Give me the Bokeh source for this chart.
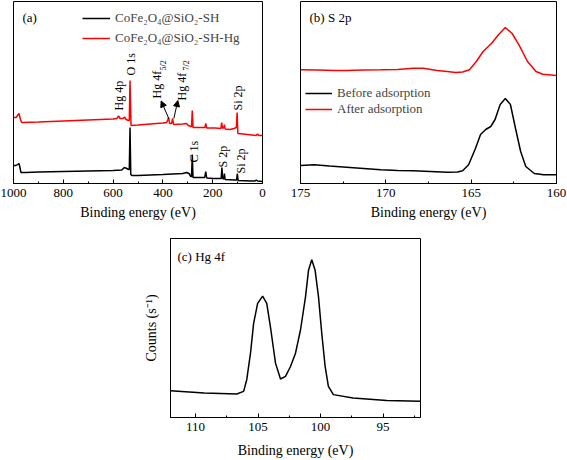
from bokeh.plotting import figure
from bokeh.layouts import column, row
from bokeh.models import (Range1d, FixedTicker, Legend, LegendItem, Arrow,
                          NormalHead)
from bokeh.core.properties import value
from bokeh.embed import file_html
from bokeh.resources import INLINE

FONT = "Liberation Serif"

# ---------------- (a) survey spectra ----------------
survey_sh_energy = [1000, 990, 978, 975, 970, 950, 900, 800, 700, 600, 565, 555, 545, 538,
                    535, 532, 529, 525, 500, 400, 320, 305, 295, 288, 285, 282, 279, 250,
                    232, 228, 224, 200, 170, 166, 163, 160, 155, 153, 150, 110, 104, 101,
                    98, 50, 30, 25, 20, 0]
survey_sh_counts = [18, 18, 20, 17, 11, 11, 11.5, 12, 12.5, 13, 13.5, 16, 15, 14,
                    14, 56, 9, 8, 8, 9, 10, 11, 10, 7, 7, 29, 6, 6,
                    6, 12, 5.5, 5, 5, 5, 16, 5, 4.5, 10, 4, 3.5, 3.5, 10,
                    3, 2.5, 2.5, 3.5, 2.5, 2]

survey_hg_energy = [1000, 990, 978, 972, 967, 900, 800, 700, 600, 585, 578, 572, 560, 554,
                    548, 538, 535, 532, 528, 500, 450, 400, 385, 380, 377, 373, 365, 361,
                    357, 320, 305, 298, 287, 285, 282, 279, 240, 231, 228, 224, 190, 167,
                    164, 160, 155, 153, 150, 130, 115, 105, 102, 99, 60, 25, 20, 15, 0]
survey_hg_counts = [66, 66, 70, 64, 61, 61.5, 62.5, 63.5, 64.5, 65, 67.5, 65, 65, 66.5,
                    64, 63, 63, 103, 58, 58.5, 59.5, 60.5, 61, 64, 66, 60, 60, 65,
                    59, 59.5, 60, 58, 57, 57, 73, 56, 56, 56, 60, 55.5, 55.5, 55,
                    61, 55, 56, 59, 54.5, 54, 55, 56, 71, 50, 49, 48, 49.5, 48, 48]

survey_ticks = [1000, 800, 600, 400, 200, 0]
survey_minor = [900, 700, 500, 300, 100]

# ---------------- (b) S 2p ----------------
s2p_before_energy = [175.0, 174.2, 173.3, 172.3, 171.3, 170.3, 169.3, 168.4, 167.4, 166.4,
                     165.8, 165.5, 165.15, 164.75, 164.45, 164.15, 163.85, 163.6, 163.3,
                     163.0, 162.7, 162.4, 162.1, 161.8, 161.3, 160.75, 160.0]
s2p_before_counts = [18, 18.7, 17.5, 16.3, 15, 13.7, 13, 12.7, 12, 11.3,
                     11.5, 12.7, 18.7, 35, 49, 54, 57, 64, 79,
                     85, 79, 55, 32, 17, 10, 8.7, 8.7]
s2p_after_energy = [175.0, 174.0, 173.0, 172.3, 171.3, 170.3, 169.3, 168.4, 167.8, 167.0,
                    166.4, 165.9, 165.5, 165.1, 164.7, 164.3, 163.8, 163.4, 163.0, 162.6,
                    162.2, 161.7, 161.2, 160.8, 160.0]
s2p_after_counts = [113.7, 113.5, 113, 113, 113.5, 113.7, 114, 115.3, 115.3, 113,
                    112, 111, 111.5, 113.7, 122, 132, 140.3, 148.7, 156, 150,
                    138.7, 122, 112, 109.3, 108]
s2p_ticks = [175, 170, 165, 160]
s2p_minor = [172.5, 167.5, 162.5]

# ---------------- (c) Hg 4f ----------------
hg4f_energy = [112.0, 109.3, 106.7, 106.15, 105.9, 105.6, 105.35, 105.03, 104.63, 104.3,
               103.97, 103.6, 103.2, 102.8, 102.4, 102.0, 101.6, 101.2, 100.96, 100.7,
               100.43, 100.16, 99.9, 99.63, 99.37, 98.97, 97.4, 94.7, 92.0]
hg4f_counts = [27, 24.7, 23.7, 26.3, 38, 64.7, 94.7, 114.7, 122, 114.7,
               88, 54.7, 38.7, 41.3, 51.3, 64.7, 88, 121.3, 148, 158.7,
               148, 121.3, 84.7, 51.3, 31.3, 23, 19.7, 17, 16.3]
hg4f_ticks = [110, 105, 100, 95]
hg4f_minor = [107.5, 102.5, 97.5, 92.5]

BLACK = "#000000"
RED = "#ff0000"


def style_xaxis(p, ticks, minor, title, title_standoff):
    ax = p.xaxis[0]
    ax.ticker = FixedTicker(ticks=ticks, minor_ticks=minor)
    ax.major_tick_in = 4
    ax.major_tick_out = 0
    ax.minor_tick_in = 2
    ax.minor_tick_out = 0
    ax.major_label_standoff = 5
    ax.axis_label = title
    ax.axis_label_standoff = title_standoff
    ax.axis_label_text_font = FONT
    ax.axis_label_text_font_style = "normal"
    ax.axis_label_text_font_size = "14px"
    ax.axis_label_text_color = "#000000"
    ax.major_label_text_font = FONT
    ax.major_label_text_font_size = "13px"
    ax.major_label_text_color = "#000000"
    ax.axis_line_color = "#000000"
    ax.major_tick_line_color = "#000000"
    ax.minor_tick_line_color = "#000000"


def base_fig(w, h, xr, yr, bl, br, bt, bb):
    p = figure(width=w, height=h, x_range=xr, y_range=yr,
               min_border_left=bl, min_border_right=br,
               min_border_top=bt, min_border_bottom=bb,
               output_backend="svg", toolbar_location=None)
    p.grid.visible = False
    p.outline_line_color = "#000000"
    p.outline_line_width = 1
    p.outline_line_alpha = 1
    p.background_fill_color = "white"
    p.border_fill_color = "white"
    return p


def add_text(p, x, y, txt, size="12px", angle=0.0, align="left", baseline="middle"):
    p.text(x=[x], y=[y], text=[txt], angle=angle, text_align=align,
           text_baseline=baseline, text_font=value(FONT),
           text_font_size=value(size), text_color="#000000")


# ----- panel (a)
pa = base_fig(280, 225, Range1d(1000, 0), Range1d(0, 182), 13, 18, 1, 42)
style_xaxis(pa, survey_ticks, survey_minor, "Binding energy (eV)", 5)
pa.yaxis.visible = False
ra1 = pa.line(survey_sh_energy, survey_sh_counts, line_color=BLACK, line_width=1.5)
ra2 = pa.line(survey_hg_energy, survey_hg_counts, line_color=RED, line_width=1.5)
leg_a = Legend(items=[LegendItem(label="CoFe₂O₄@SiO₂-SH", renderers=[ra1]),
                      LegendItem(label="CoFe₂O₄@SiO₂-SH-Hg", renderers=[ra2])],
               location=(69, 135), glyph_width=28, glyph_height=20, label_height=20,
               label_standoff=5, padding=0, margin=0, spacing=0,
               label_text_font=FONT, label_text_font_size="13px",
               border_line_alpha=0, background_fill_alpha=0)
pa.add_layout(leg_a)
add_text(pa, 964, 166, "(a)", size="13px")
V = 1.5707963
add_text(pa, 578, 73, "Hg 4p", angle=V)
add_text(pa, 530, 108, "O 1s", angle=V)
add_text(pa, 423, 85, "Hg 4f", angle=V)
add_text(pa, 399, 113, "5/2", size="8px", angle=V)
add_text(pa, 325, 83, "Hg 4f", angle=V)
add_text(pa, 305, 113, "7/2", size="8px", angle=V)
add_text(pa, 100, 73, "Si 2p", angle=V)
add_text(pa, 274, 21, "C 1s", angle=V)
add_text(pa, 158, 16, "S 2p", angle=V)
add_text(pa, 88, 10, "Si 2p", angle=V)
for xs, ys, xe, ye in [(376, 64.7, 407, 82.5), (356, 65, 340, 83)]:
    pa.add_layout(Arrow(end=NormalHead(size=6, fill_color="black", line_color="black"),
                        x_start=xs, y_start=ys, x_end=xe, y_end=ye,
                        line_color="black", line_width=1))

# ----- panel (b)
pb = base_fig(287, 225, Range1d(175, 160), Range1d(0, 182), 20, 11, 1, 42)
style_xaxis(pb, s2p_ticks, s2p_minor, "Binding energy (eV)", 5)
pb.yaxis.visible = False
rb1 = pb.line(s2p_before_energy, s2p_before_counts, line_color=BLACK, line_width=1.5)
rb2 = pb.line(s2p_after_energy, s2p_after_counts, line_color=RED, line_width=1.5)
leg_b = Legend(items=[LegendItem(label="Before adsorption", renderers=[rb1]),
                      LegendItem(label="After adsorption", renderers=[rb2])],
               location=(5, 66), glyph_width=27, glyph_height=14, label_height=14,
               label_standoff=5, padding=0, margin=0, spacing=-3,
               label_text_font=FONT, label_text_font_size="13px",
               border_line_alpha=0, background_fill_alpha=0)
pb.add_layout(leg_b)
add_text(pb, 174.47, 166, "(b) S 2p", size="13px")

# ----- panel (c)
pc = base_fig(567, 235, Range1d(112, 92), Range1d(0, 180), 170, 147, 13, 42)
style_xaxis(pc, hg4f_ticks, hg4f_minor, "Binding energy (eV)", 9)
ya = pc.yaxis[0]
ya.ticker = FixedTicker(ticks=[])
ya.major_tick_in = 0
ya.major_tick_out = 0
ya.minor_tick_in = 0
ya.minor_tick_out = 0
ya.axis_label = "Counts (s⁻¹)"
ya.axis_label_standoff = 12
ya.axis_label_text_font = FONT
ya.axis_label_text_font_style = "normal"
ya.axis_label_text_font_size = "14px"
ya.axis_label_text_color = "#000000"
ya.axis_line_color = "#000000"
pc.line(hg4f_energy, hg4f_counts, line_color=BLACK, line_width=1.5)
add_text(pc, 111.44, 162.3, "(c) Hg 4f", size="13px")

root = column(row(pa, pb), pc)
open("out.html", "w").write(file_html(root, INLINE))
